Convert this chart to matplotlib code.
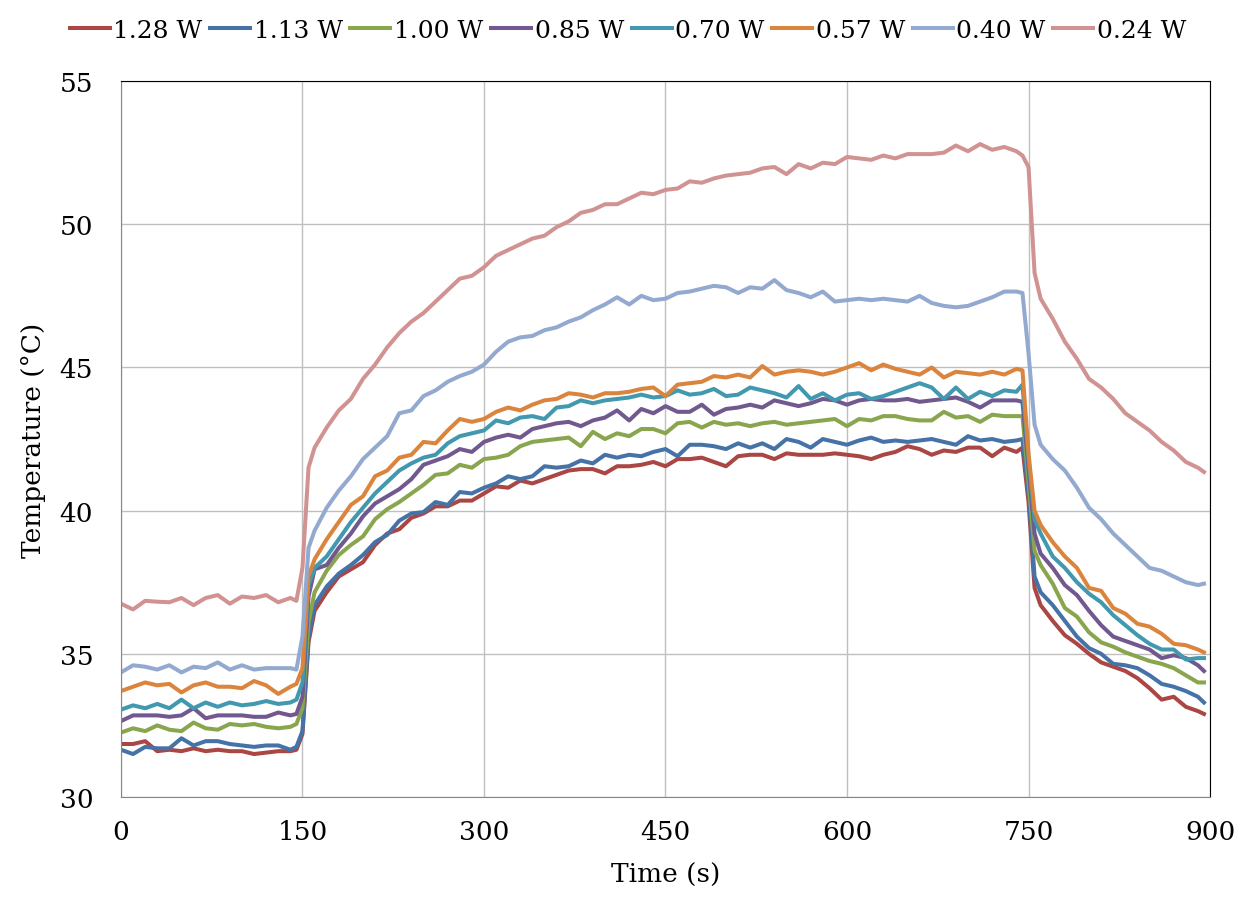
import numpy as np
import matplotlib
matplotlib.use("Agg")
import matplotlib.pyplot as plt

# sample times (s)
time_s = [0, 10, 20, 30, 40, 50, 60, 70, 80, 90, 100, 110, 120, 130, 140,
          145, 150, 155,
          160, 170, 180, 190, 200, 210, 220, 230, 240, 250, 260, 270, 280, 290,
          300, 310, 320, 330, 340, 350, 360, 370, 380, 390, 400, 410, 420, 430,
          440, 450, 460, 470, 480, 490, 500, 510, 520, 530, 540, 550, 560, 570,
          580, 590, 600, 610, 620, 630, 640, 650, 660, 670, 680, 690, 700, 710,
          720, 730, 740,
          745, 750, 755,
          760, 770, 780, 790, 800, 810, 820, 830, 840, 850, 860, 870, 880, 890, 895]

power_labels = ["1.28 W", "1.13 W", "1.00 W", "0.85 W", "0.70 W", "0.57 W", "0.40 W", "0.24 W"]
line_colors = ["#AA4643", "#4572A7", "#89A54E", "#71588F", "#4198AF", "#DB843D", "#93A9CF", "#D19392"]

temp_128 = [31.85, 31.85, 31.95, 31.6, 31.65, 31.6, 31.7, 31.6, 31.65, 31.6, 31.6, 31.5, 31.55, 31.6, 31.6,
            31.65, 32.2, 35.4,
            36.5, 37.15, 37.7, 37.95, 38.2, 38.8, 39.2, 39.35, 39.75, 39.9, 40.15, 40.15, 40.35, 40.35,
            40.6, 40.85, 40.8, 41.05, 40.95, 41.1, 41.25, 41.4, 41.45, 41.45, 41.3, 41.55, 41.55, 41.6,
            41.7, 41.55, 41.8, 41.8, 41.85, 41.7, 41.55, 41.9, 41.95, 41.95, 41.8, 42.0, 41.95, 41.95,
            41.95, 42.0, 41.95, 41.9, 41.8, 41.95, 42.05, 42.25, 42.15, 41.95, 42.1, 42.05, 42.2, 42.2,
            41.9, 42.2, 42.05,
            42.2, 40.3, 37.3,
            36.7, 36.15, 35.65, 35.35, 35.0, 34.7, 34.55, 34.4, 34.15, 33.8, 33.4, 33.5, 33.15, 33.0, 32.9]

temp_113 = [31.65, 31.5, 31.75, 31.7, 31.7, 32.05, 31.8, 31.95, 31.95, 31.85, 31.8, 31.75, 31.8, 31.8, 31.65,
            31.75, 32.3, 35.6,
            36.7, 37.35, 37.8, 38.1, 38.45, 38.9, 39.15, 39.65, 39.9, 39.95, 40.3, 40.2, 40.65, 40.6,
            40.8, 40.95, 41.2, 41.1, 41.2, 41.55, 41.5, 41.55, 41.75, 41.65, 41.95, 41.85, 41.95, 41.9,
            42.05, 42.15, 41.9, 42.3, 42.3, 42.25, 42.15, 42.35, 42.2, 42.35, 42.15, 42.5, 42.4, 42.2,
            42.5, 42.4, 42.3, 42.45, 42.55, 42.4, 42.45, 42.4, 42.45, 42.5, 42.4, 42.3, 42.6, 42.45,
            42.5, 42.4, 42.45,
            42.5, 40.6, 37.7,
            37.15, 36.7, 36.15, 35.6, 35.2, 35.0, 34.65, 34.6, 34.5, 34.25, 33.95, 33.85, 33.7, 33.5, 33.3]

temp_100 = [32.25, 32.4, 32.3, 32.5, 32.35, 32.3, 32.6, 32.4, 32.35, 32.55, 32.5, 32.55, 32.45, 32.4, 32.45,
            32.55, 33.1, 36.1,
            37.15, 37.9, 38.45, 38.8, 39.1, 39.7, 40.05, 40.3, 40.6, 40.9, 41.25, 41.3, 41.6, 41.5,
            41.8, 41.85, 41.95, 42.25, 42.4, 42.45, 42.5, 42.55, 42.25, 42.75, 42.5, 42.7, 42.6, 42.85,
            42.85, 42.7, 43.05, 43.1, 42.9, 43.1, 43.0, 43.05, 42.95, 43.05, 43.1, 43.0, 43.05, 43.1,
            43.15, 43.2, 42.95, 43.2, 43.15, 43.3, 43.3, 43.2, 43.15, 43.15, 43.45, 43.25, 43.3, 43.1,
            43.35, 43.3, 43.3,
            43.3, 41.0, 38.6,
            38.1, 37.45, 36.6, 36.3, 35.75, 35.4, 35.25, 35.05, 34.9, 34.75, 34.65, 34.5, 34.25, 34.0, 34.0]

temp_085 = [32.65, 32.85, 32.85, 32.85, 32.8, 32.85, 33.1, 32.75, 32.85, 32.85, 32.85, 32.8, 32.8, 32.95, 32.85,
            32.9, 33.5, 37.0,
            37.95, 38.1, 38.7, 39.2, 39.8, 40.25, 40.5, 40.75, 41.1, 41.6, 41.75, 41.9, 42.15, 42.05,
            42.4, 42.55, 42.65, 42.55, 42.85, 42.95, 43.05, 43.1, 42.95, 43.15, 43.25, 43.5, 43.15, 43.55,
            43.4, 43.65, 43.45, 43.45, 43.7, 43.35, 43.55, 43.6, 43.7, 43.6, 43.85, 43.75, 43.65, 43.75,
            43.9, 43.85, 43.7, 43.85, 43.9, 43.85, 43.85, 43.9, 43.8, 43.85, 43.9, 43.95, 43.8, 43.6,
            43.85, 43.85, 43.85,
            43.8, 41.5, 39.2,
            38.5, 38.0, 37.4, 37.05, 36.5, 36.0, 35.6, 35.45, 35.3, 35.15, 34.85, 34.95, 34.85, 34.6, 34.4]

temp_070 = [33.05, 33.2, 33.1, 33.25, 33.1, 33.4, 33.1, 33.3, 33.15, 33.3, 33.2, 33.25, 33.35, 33.25, 33.3,
            33.4, 34.0, 37.4,
            38.0, 38.4, 39.0, 39.6, 40.1, 40.6, 41.0, 41.4, 41.65, 41.85, 41.95, 42.35, 42.6, 42.7,
            42.8, 43.15, 43.05, 43.25, 43.3, 43.2, 43.6, 43.65, 43.85, 43.75, 43.85, 43.9, 43.95, 44.05,
            43.95, 44.0, 44.2, 44.05, 44.1, 44.25, 44.0, 44.05, 44.3, 44.2, 44.1, 43.95, 44.35, 43.9,
            44.1, 43.85, 44.05, 44.1, 43.9, 44.0, 44.15, 44.3, 44.45, 44.3, 43.9, 44.3, 43.9, 44.15,
            44.0, 44.2, 44.15,
            44.4, 41.8, 39.7,
            39.2, 38.4, 38.0, 37.5, 37.1, 36.8, 36.35, 36.0, 35.65, 35.35, 35.15, 35.15, 34.8, 34.85, 34.85]

temp_057 = [33.7, 33.85, 34.0, 33.9, 33.95, 33.65, 33.9, 34.0, 33.85, 33.85, 33.8, 34.05, 33.9, 33.6, 33.85,
            33.95, 34.5, 37.7,
            38.3, 39.0, 39.6, 40.2, 40.5, 41.2, 41.4, 41.85, 41.95, 42.4, 42.35, 42.8, 43.2, 43.1,
            43.2, 43.45, 43.6, 43.5, 43.7, 43.85, 43.9, 44.1, 44.05, 43.95, 44.1, 44.1, 44.15, 44.25,
            44.3, 44.0, 44.4, 44.45, 44.5, 44.7, 44.65, 44.75, 44.65, 45.05, 44.75, 44.85, 44.9, 44.85,
            44.75, 44.85, 45.0, 45.15, 44.9, 45.1, 44.95, 44.85, 44.75, 45.0, 44.65, 44.85, 44.8, 44.75,
            44.85, 44.75, 44.95,
            44.9, 42.0, 40.0,
            39.5, 38.9, 38.4, 38.0, 37.3, 37.2, 36.6, 36.4, 36.05, 35.95, 35.7, 35.35, 35.3, 35.15, 35.05]

temp_040 = [34.35, 34.6, 34.55, 34.45, 34.6, 34.35, 34.55, 34.5, 34.7, 34.45, 34.6, 34.45, 34.5, 34.5, 34.5,
            34.45, 35.6, 38.7,
            39.3, 40.1, 40.7, 41.2, 41.8, 42.2, 42.6, 43.4, 43.5, 44.0, 44.2, 44.5, 44.7, 44.85,
            45.1, 45.55, 45.9, 46.05, 46.1, 46.3, 46.4, 46.6, 46.75, 47.0, 47.2, 47.45, 47.2, 47.5,
            47.35, 47.4, 47.6, 47.65, 47.75, 47.85, 47.8, 47.6, 47.8, 47.75, 48.05, 47.7, 47.6, 47.45,
            47.65, 47.3, 47.35, 47.4, 47.35, 47.4, 47.35, 47.3, 47.5, 47.25, 47.15, 47.1, 47.15, 47.3,
            47.45, 47.65, 47.65,
            47.6, 45.5, 43.0,
            42.3, 41.8, 41.4, 40.8, 40.1, 39.7, 39.2, 38.8, 38.4, 38.0, 37.9, 37.7, 37.5, 37.4, 37.45]

temp_024 = [36.75, 36.55, 36.85, 36.82, 36.8, 36.95, 36.7, 36.95, 37.05, 36.75, 37.0, 36.95, 37.05, 36.8, 36.95,
            36.85, 38.0, 41.5,
            42.2, 42.9, 43.5, 43.9, 44.6, 45.1, 45.7, 46.2, 46.6, 46.9, 47.3, 47.7, 48.1, 48.2,
            48.5, 48.9, 49.1, 49.3, 49.5, 49.6, 49.9, 50.1, 50.4, 50.5, 50.7, 50.7, 50.9, 51.1,
            51.05, 51.2, 51.25, 51.5, 51.45, 51.6, 51.7, 51.75, 51.8, 51.95, 52.0, 51.75, 52.1, 51.95,
            52.15, 52.1, 52.35, 52.3, 52.25, 52.4, 52.3, 52.45, 52.45, 52.45, 52.5, 52.75, 52.55, 52.8,
            52.6, 52.7, 52.55,
            52.4, 52.0, 48.3,
            47.4, 46.7, 45.9, 45.3, 44.6, 44.3, 43.9, 43.4, 43.1, 42.8, 42.4, 42.1, 41.7, 41.5, 41.35]

series = [temp_128, temp_113, temp_100, temp_085, temp_070, temp_057, temp_040, temp_024]

plt.rcParams['font.family'] = ['DejaVu Serif']

fig = plt.figure(figsize=(12.56, 9.12), dpi=100)
ax = fig.add_axes([0.0963, 0.125, 0.8671, 0.785])

for vals, lab, col in zip(series, power_labels, line_colors):
    ax.plot(time_s, vals, color=col, linewidth=2.9, label=lab, solid_joinstyle='round')

ax.set_xlim(0, 900)
ax.set_ylim(30, 55)
ax.set_xticks(np.arange(0, 901, 150))
ax.set_yticks(np.arange(30, 56, 5))
ax.grid(True, color='#BFBFBF', linewidth=1)
ax.set_axisbelow(True)
ax.tick_params(length=0, labelsize=19)
ax.tick_params(axis='y', pad=20)
ax.tick_params(axis='x', pad=16)
for side in ['left', 'bottom']:
    ax.spines[side].set_color('#868686')
for side in ['top', 'right']:
    ax.spines[side].set_color('black')

ax.set_xlabel('Time (s)', fontsize=19, labelpad=13)
ax.set_ylabel('Temperature (°C)', fontsize=19, labelpad=10)

fig.legend(loc='upper center', bbox_to_anchor=(0.5, 1.003), ncol=8, frameon=False,
           fontsize=18, handlelength=1.6, handletextpad=0.15, columnspacing=0.3)

fig.savefig('out.png', dpi=100)
